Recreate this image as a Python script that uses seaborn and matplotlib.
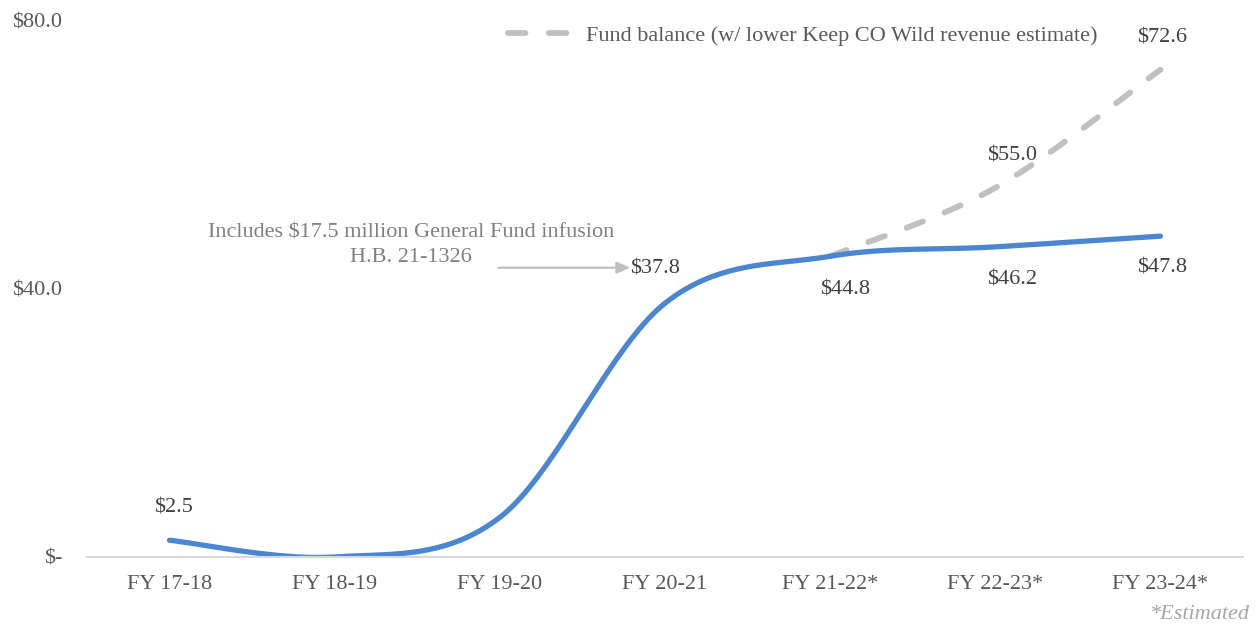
import numpy as np
import pandas as pd
import seaborn as sns
import matplotlib.pyplot as plt

sns.set_style("white")
plt.rcParams['font.family'] = ['Liberation Serif', 'DejaVu Serif']

# data -------------------------------------------------------------------------
years = ["FY 17-18", "FY 18-19", "FY 19-20", "FY 20-21", "FY 21-22*", "FY 22-23*", "FY 23-24*"]
balance = [2.5, 0.0, 5.9, 37.8, 44.8, 46.2, 47.8]
balance_labels = ["$2.5", None, None, "$37.8", "$44.8", "$46.2", "$47.8"]
low_years = ["FY 21-22*", "FY 22-23*", "FY 23-24*"]
low_balance = [44.8, 55.0, 72.6]
low_labels = [None, "$55.0", "$72.6"]
yticks = [0, 40, 80]
ytick_labels = ["$-", "$40.0", "$80.0"]

BLUE = "#4a86d1"
GRAY = "#c0c0c0"
FS = 16


def smooth(x, y, n=40):
    # excel style smoothed line (catmull-rom through the points)
    x = np.asarray(x, float); y = np.asarray(y, float)
    px = np.concatenate([[x[0]], x, [x[-1]]])
    py = np.concatenate([[y[0]], y, [y[-1]]])
    xs, ys = [], []
    t = np.linspace(0, 1, n)
    for i in range(1, len(px) - 2):
        for p, out in ((px, xs), (py, ys)):
            p0, p1, p2, p3 = p[i - 1], p[i], p[i + 1], p[i + 2]
            c1 = p1 + (p2 - p0) / 6
            c2 = p2 - (p3 - p1) / 6
            out.extend((1 - t) ** 3 * p1 + 3 * (1 - t) ** 2 * t * c1
                       + 3 * (1 - t) * t ** 2 * c2 + t ** 3 * p2)
    return np.array(xs), np.array(ys)


xi = np.arange(len(years))
xl = np.array([years.index(y) for y in low_years])
sx, sy = smooth(xi, balance)
lx, ly = smooth(xl, low_balance)

main = pd.DataFrame({"x": sx, "y": sy})
low = pd.DataFrame({"x": lx, "y": ly})

# plot -------------------------------------------------------------------------
fig = plt.figure(figsize=(12.6, 6.37), dpi=100)
ax = fig.add_axes([0.069, 0.1256, 0.9175, 0.843])

sns.lineplot(data=low, x="x", y="y", ax=ax, color=GRAY, lw=4.2,
             linestyle=(0, (3.0, 4.0)), dash_capstyle="round",
             label="Fund balance (w/ lower Keep CO Wild revenue estimate)", sort=False)
sns.lineplot(data=main, x="x", y="y", ax=ax, color=BLUE, lw=3.8,
             solid_capstyle="round", sort=False)

ax.set_xlim(-0.5, len(years) - 0.5)
ax.set_ylim(0, 80)
ax.set_xticks(xi)
ax.set_xticklabels(years, fontsize=FS, color="#595959")
ax.set_yticks(yticks)
ax.set_yticklabels(ytick_labels, fontsize=FS, color="#595959")
ax.tick_params(axis='x', length=0, pad=13)
ax.tick_params(axis='y', length=0, pad=18)
ax.set_xlabel("")
ax.set_ylabel("")
for s in ["top", "right", "left"]:
    ax.spines[s].set_visible(False)
ax.spines["bottom"].set_color("#d9d9d9")
ax.spines["bottom"].set_linewidth(1.5)

lab = dict(fontsize=FS, color="#404040", ha="center", va="center")
offsets = [(3, 23), None, None, (-7, 25), (11, -24), (12, -24), (1.5, -23)]
for i, (v, t) in enumerate(zip(balance, balance_labels)):
    if t:
        ax.annotate(t, (xi[i], v), xytext=offsets[i], textcoords="offset points", **lab)
low_off = [None, (12, 23), (1.5, 23)]
for i, (v, t) in enumerate(zip(low_balance, low_labels)):
    if t:
        ax.annotate(t, (xl[i], v), xytext=low_off[i], textcoords="offset points", **lab)

ax.text(1.46, 46.4, "Includes $17.5 million General Fund infusion\nH.B. 21-1326",
        ha="center", va="center", fontsize=FS, color="#808080", linespacing=1.4)
ax.annotate("", xy=(2.79, 43.1), xytext=(1.99, 43.1),
            arrowprops=dict(arrowstyle="-|>,head_length=0.8,head_width=0.35",
                            color="#bfbfbf", lw=1.6, shrinkA=0, shrinkB=0))

leg = ax.legend(loc="upper left", bbox_to_anchor=(508 / 1260, 1 - 25 / 637),
                bbox_transform=fig.transFigure, frameon=False, borderpad=0,
                borderaxespad=0, fontsize=FS, handlelength=2.9, handletextpad=0.6)
for t in leg.get_texts():
    t.set_color("#595959")

fig.text(0.992, 0.02, "*Estimated", ha="right", va="bottom", fontsize=FS,
         style="italic", color="#a6a6a6")

plt.savefig("out.png", dpi=100)
